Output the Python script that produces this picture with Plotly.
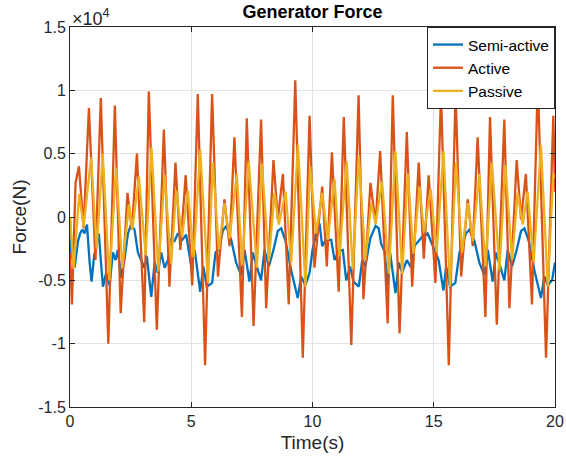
import plotly.graph_objects as go

# Force values are in units of 1e4 N (axis shows x10^4)
t_semi = [0, 0.05, 0.19, 0.33, 0.42, 0.5, 0.6, 0.7, 0.81, 0.89, 1.0, 1.1, 1.19, 1.29, 1.36, 1.49, 1.63, 1.77, 1.88, 1.97,
          2.11, 2.25, 2.39, 2.52, 2.66, 2.8, 2.94, 3.07, 3.17, 3.35, 3.49, 3.62, 3.76, 3.9, 4.04, 4.17, 4.31, 4.45, 4.63, 4.79,
          5.0, 5.14, 5.37, 5.5, 5.64, 5.86, 6.0, 6.15, 6.3, 6.44, 6.65, 6.85, 7.06, 7.2, 7.4, 7.54, 7.7, 7.88, 8.02, 8.2,
          8.39, 8.57, 8.71, 8.89, 9.12, 9.39, 9.53, 9.71, 9.88,
          10.0, 10.15, 10.29, 10.4, 10.54, 10.77, 10.91, 11.08, 11.25, 11.39, 11.55, 11.69, 11.91, 12.05, 12.18, 12.38,
          12.6, 12.73, 12.83, 12.97, 13.1, 13.2, 13.42, 13.56, 13.7, 13.89, 14.07, 14.2, 14.41, 14.55, 14.75, 14.9,
          15.07, 15.2, 15.4, 15.51, 15.67, 15.89, 16.06, 16.33, 16.47, 16.68, 16.88, 17.09, 17.23, 17.43, 17.57, 17.73,
          17.91, 18.05, 18.23, 18.42, 18.6, 18.74, 18.92, 19.15, 19.42, 19.56, 19.7, 19.88, 20.0]
f_semi = [0, -0.28, -0.4, -0.19, -0.13, -0.1, -0.13, -0.06, -0.36, -0.51, -0.3, -0.2, -0.13, -0.39, -0.55, -0.44, -0.54, -0.28, -0.34, -0.26,
          -0.48, -0.33, -0.13, -0.06, -0.1, -0.28, -0.34, -0.4, -0.31, -0.63, -0.36, -0.44, -0.28, -0.4, -0.34, -0.18, -0.19, -0.13, -0.18, -0.14,
          -0.39, -0.26, -0.59, -0.39, -0.55, -0.52, -0.28, -0.25, -0.11, -0.07, -0.18, -0.36, -0.46, -0.26, -0.51, -0.28, -0.39, -0.5, -0.26, -0.39,
          -0.26, -0.11, -0.09, -0.19, -0.42, -0.64, -0.47, -0.54, -0.44,
          -0.26, -0.13, -0.05, -0.23, -0.18, -0.18, -0.34, -0.27, -0.26, -0.5, -0.39, -0.51, -0.55, -0.34, -0.39, -0.17,
          -0.07, -0.09, -0.21, -0.27, -0.54, -0.28, -0.6, -0.36, -0.44, -0.34, -0.4, -0.23, -0.18, -0.15, -0.13, -0.2,
          -0.28, -0.34, -0.58, -0.39, -0.55, -0.52, -0.28, -0.13, -0.1, -0.19, -0.36, -0.46, -0.26, -0.51, -0.28, -0.39,
          -0.5, -0.26, -0.39, -0.26, -0.11, -0.09, -0.19, -0.42, -0.64, -0.47, -0.54, -0.5, -0.36]

t_active = [0, 0.08, 0.23, 0.37, 0.56, 0.78, 1.05, 1.27, 1.58, 1.85, 2.09, 2.37, 2.55, 2.76, 3.06, 3.25, 3.58, 3.87, 4.1, 4.35,
            4.55, 4.77, 5.04, 5.27, 5.57, 5.86, 6.1, 6.37, 6.58, 6.78, 7.09, 7.29, 7.57, 7.88, 8.09, 8.39, 8.57, 8.78, 9.02, 9.29,
            9.6, 9.88, 10.08, 10.4, 10.59, 10.8, 11.08, 11.29, 11.6, 11.9, 12.1, 12.39, 12.6, 12.79, 13.1, 13.31, 13.59, 13.89,
            14.11, 14.38, 14.59, 14.79, 15.07, 15.3, 15.62, 15.9, 16.13, 16.4, 16.61, 16.81, 17.13, 17.32, 17.6, 17.91, 18.12,
            18.42, 18.6, 18.8, 19.05, 19.29, 19.63, 19.93, 20.0]
f_active = [-0.29, -0.69, 0.27, 0.40, -0.09, 0.86, -0.34, 0.94, -1.0, 0.88, -0.76, 0.19, -0.1, 0.5, -0.83, 0.99, -0.89, 0.69, -0.55, 0.43,
            -0.26, 0.33, -0.54, 0.97, -1.17, 0.97, -0.47, 0.14, -0.23, 0.63, -0.79, 0.78, -0.86, 0.77, -0.72, 0.45, -0.02, 0.34, -0.69, 1.08,
            -1.11, 0.8, -0.40, 0.24, -0.39, 0.51, -0.59, 0.79, -1.01, 0.96, -0.65, 0.27, -0.05, 0.52, -0.84, 0.96, -0.92, 0.67,
            -0.55, 0.43, -0.33, 0.33, -0.52, 0.98, -1.17, 0.98, -0.47, 0.14, -0.23, 0.63, -0.79, 0.79, -0.85, 0.77, -0.72,
            0.45, -0.02, 0.34, -0.69, 1.08, -1.11, 0.8, 0.2]

t_passive = [0, 0.15, 0.38, 0.56, 0.87, 1.1, 1.35, 1.62, 1.9, 2.16, 2.43, 2.57, 2.84, 3.12, 3.36, 3.64, 3.9, 4.17, 4.38, 4.62,
             4.86, 5.1, 5.37, 5.69, 5.89, 6.14, 6.37, 6.58, 6.88, 7.1, 7.37, 7.71, 7.91, 8.2, 8.43, 8.61, 8.89, 9.12, 9.4, 9.71,
             9.9, 10.15, 10.4, 10.63, 10.91, 11.11, 11.41, 11.66, 11.91, 12.18, 12.42, 12.6, 12.87, 13.15, 13.42, 13.7, 13.93,
             14.16, 14.41, 14.6, 14.87, 15.12, 15.4, 15.67, 15.92, 16.17, 16.4, 16.61, 16.88, 17.13, 17.4, 17.71, 17.95, 18.23,
             18.46, 18.67, 18.87, 19.12, 19.42, 19.7, 19.93, 20.0]
f_passive = [0, -0.41, 0.18, -0.08, 0.47, -0.25, 0.5, -0.5, 0.39, -0.4, 0.1, -0.1, 0.32, -0.3, 0.55, -0.43, 0.33, -0.37, 0.21, -0.16,
             0.21, -0.32, 0.53, -0.52, 0.43, -0.26, 0.11, -0.17, 0.34, -0.38, 0.44, -0.4, 0.42, -0.35, 0.19, -0.06, 0.2, -0.36, 0.57, -0.55,
             0.4, -0.13, 0.19, -0.18, 0.3, -0.31, 0.44, -0.41, 0.48, -0.34, 0.11, -0.05, 0.28, -0.45, 0.52, -0.45, 0.34,
             -0.29, 0.24, -0.12, 0.22, -0.28, 0.52, -0.55, 0.43, -0.28, 0.11, -0.19, 0.34, -0.39, 0.43, -0.42, 0.41, -0.34,
             0.19, -0.06, 0.2, -0.36, 0.57, -0.55, 0.34, 0.31]

x_ticks = [0, 5, 10, 15, 20]
y_ticks = [-1.5, -1, -0.5, 0, 0.5, 1, 1.5]
y_tick_labels = ["-1.5", "-1", "-0.5", "0", "0.5", "1", "1.5"]

FONT = "Liberation Sans, Arial, Helvetica, sans-serif"
AX = "#262626"

fig = go.Figure()
fig.add_trace(go.Scatter(x=t_semi, y=f_semi, mode="lines", name="Semi-active",
                         line=dict(color="#0072BD", width=2.3)))
fig.add_trace(go.Scatter(x=t_active, y=f_active, mode="lines", name="Active",
                         line=dict(color="#D95319", width=2.3)))
fig.add_trace(go.Scatter(x=t_passive, y=f_passive, mode="lines", name="Passive",
                         line=dict(color="#EDB120", width=2.3)))

fig.update_layout(
    width=566, height=467,
    margin=dict(l=70, r=11, t=27, b=60, autoexpand=False),
    paper_bgcolor="white", plot_bgcolor="white",
    font=dict(family=FONT, size=16, color=AX),
    title=dict(text="<b>Generator Force</b>", x=0.5, xref="paper", xanchor="center",
               y=0.974, yanchor="middle", font=dict(size=18, color="black")),
    showlegend=True,
    legend=dict(x=1, y=1, xanchor="right", yanchor="top", bgcolor="white",
                bordercolor=AX, borderwidth=1, font=dict(size=15.5, color="black"),
                tracegroupgap=0, itemwidth=30),
    xaxis=dict(range=[0, 20], tickvals=x_ticks, ticks="inside", ticklen=5, tickcolor=AX,
               showline=True, linecolor=AX, linewidth=1, mirror="ticks", automargin=False,
               showgrid=True, gridcolor="#e3e3e3", gridwidth=1, zeroline=False,
               title=dict(text="Time(s)", font=dict(size=19, color=AX), standoff=6),
               tickfont=dict(size=16, color=AX)),
    yaxis=dict(range=[-1.5, 1.5], tickvals=y_ticks, ticktext=y_tick_labels, ticks="inside",
               ticklen=5, tickcolor=AX, showline=True, linecolor=AX, linewidth=1, mirror="ticks",
               automargin=False,
               showgrid=True, gridcolor="#e3e3e3", gridwidth=1, zeroline=False,
               title=dict(text="Force(N)", font=dict(size=19, color=AX), standoff=6),
               tickfont=dict(size=16, color=AX)),
    annotations=[dict(text="×10<sup>4</sup>", x=0, y=1, xref="paper", yref="paper",
                      xanchor="left", yanchor="bottom", showarrow=False, yshift=-4,
                      font=dict(size=18, color=AX))],
)

fig.write_html("out.html", config={"displayModeBar": False},
               post_script="document.body.style.margin='0px';document.body.style.overflow='hidden';")
